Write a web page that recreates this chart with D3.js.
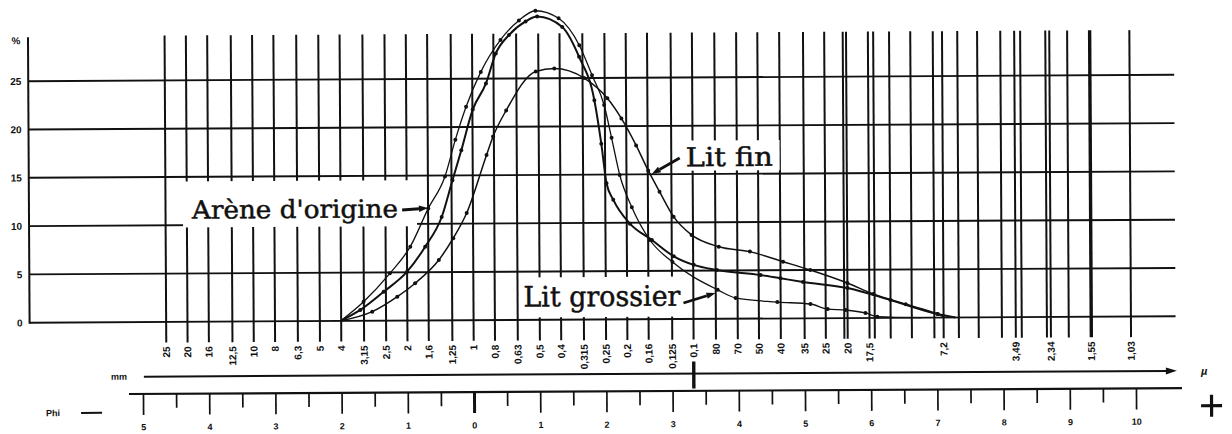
<!DOCTYPE html>
<html><head><meta charset="utf-8">
<script src="https://cdn.jsdelivr.net/npm/d3@7"></script>
<style>
html,body{margin:0;padding:0;background:#fff;}
svg{display:block;background:#fff;}
</style></head><body>
<svg id="c" width="1232" height="434"></svg>
<script>
// ---------------- data ----------------
const pctTicks = [0, 5, 10, 15, 20, 25];
const phiTicks = [-5,-4,-3,-2,-1,0,1,2,3,4,5,6,7,8,9,10];
const mmLabels = ["25","20","16","12,5","10","8","6,3","5","4","3,15","2,5","2","1,6","1,25","1","0,8","0,63","0,5","0,4","0,315","0,25","0,2","0,16","0,125","0,1"];
const mmValues = [25,20,16,12.5,10,8,6.3,5,4,3.15,2.5,2,1.6,1.25,1,0.8,0.63,0.5,0.4,0.315,0.25,0.2,0.16,0.125,0.1];
const micronLabels = ["80","70","50","40","35","25","20","17,5","7,2","3,49","2,34","1,55","1,03"];
const micronPhi = [3.66,3.99,4.31,4.64,5.0,5.32,5.65,5.98,7.10,8.19,8.72,9.33,9.93];
const extraLinePhi = [5.60,6.06,6.30,6.62,6.96,7.33,7.63,7.98,8.28,8.66,8.99];

// curves: [phi, percent]
const courbeArene = [[-2.01,0],[-1.66,1.98],[-1.26,4.9],[-0.95,7.65],[-0.675,11.6],[-0.42,14.9],[-0.26,18.7],[-0.095,22.1],[0.13,25.7],[0.43,29.0],[0.71,31.0],[0.96,32.0],[1.31,31.2],[1.62,28.4],[1.81,25.3],[1.99,22.2],[2.10,18.8],[2.22,14.95],[2.40,11.6],[2.67,8.2],[3.01,5.9],[3.69,3.0],[3.96,2.15],[4.59,1.7],[5.09,1.48],[5.35,0.95],[5.62,0.84],[5.92,0.52],[6.1,0.13],[6.77,0]];
const courbeMoyenne = [[-2.01,0],[-1.71,1.13],[-1.355,3.0],[-1.0,5.06],[-0.725,7.64],[-0.473,10.7],[-0.307,14.5],[-0.171,17.6],[0.005,21.8],[0.207,24.5],[0.358,27.6],[0.559,29.5],[0.811,30.9],[0.986,31.4],[1.364,30.3],[1.616,27.2],[1.843,22.7],[1.944,18.2],[2.02,14.1],[2.12,12.4],[2.37,9.9],[2.70,8.2],[3.03,6.5],[3.33,5.6],[3.68,5.06],[4.34,4.5],[4.64,4.16],[4.98,3.77],[5.65,3.12],[6.30,1.85],[7.01,0.37],[7.28,0]];
const courbeLitFin = [[-2.01,0],[-1.53,0.94],[-1.15,2.48],[-0.88,3.86],[-0.52,6.25],[-0.30,8.5],[-0.095,11.1],[0.21,17.1],[0.31,19.0],[0.51,21.7],[0.96,25.7],[1.24,26.0],[1.69,25.0],[2.04,22.9],[2.25,20.8],[2.47,18.0],[2.65,15.4],[2.82,13.2],[3.03,10.6],[3.30,8.7],[3.71,7.46],[4.18,6.94],[4.68,5.88],[5.09,5.0],[5.65,3.63],[6.04,2.48],[6.53,1.4],[7.01,0.37],[7.13,0]];

const labelTexts = ["Arène d'origine", "Lit fin", "Lit grossier"];

// ---------------- drawing ----------------
const ink = "#111";
const svg = d3.select("#c");
const root = svg.append("g").attr("transform","rotate(-0.32 616 217)");
const x = d3.scaleLinear().domain([0,10]).range([473,1135]);
const y = d3.scaleLinear().domain([0,25]).range([319.4,77.9]);

// horizontal grid
root.append("g").selectAll("line").data(pctTicks).join("line")
  .attr("x1",29).attr("x2",1175)
  .attr("y1",d=>y(d)).attr("y2",d=>y(d))
  .attr("stroke",ink).attr("stroke-width",1.9);

// vertical grid
const vLines = mmValues.map(m=>-Math.log2(m)).concat(micronPhi, extraLinePhi);
root.append("g").selectAll("line").data(vLines).join("line")
  .attr("x1",d=>x(d)).attr("x2",d=>x(d))
  .attr("y1",33).attr("y2",340)
  .attr("stroke",ink)
  .attr("stroke-width",d=>d===micronPhi[11]?3.4:2);

// size labels (rotated)
const sizeLabels = mmLabels.map((t,i)=>({t,phi:-Math.log2(mmValues[i])}))
  .concat(micronLabels.map((t,i)=>({t,phi:micronPhi[i]})));
root.append("g").selectAll("text").data(sizeLabels).join("text")
  .attr("transform",d=>`translate(${x(d.phi)},344) rotate(-90)`)
  .attr("text-anchor","end").attr("dy","0.36em")
  .attr("fill",ink)
  .style("font","bold 10px 'Liberation Sans', Arial, sans-serif")
  .text(d=>d.t);

// thick mark at 0,1 mm
const p01 = -Math.log2(mmValues[mmValues.length-1]);
root.append("line").attr("x1",x(p01)).attr("x2",x(p01)).attr("y1",362).attr("y2",389)
  .attr("stroke",ink).attr("stroke-width",3.4);

// y axis
const yAxis = d3.axisLeft(y).tickValues(pctTicks).tickSize(0).tickPadding(7);
const yg = root.append("g").attr("transform","translate(29,0)").call(yAxis);
yg.select(".domain").remove();
yg.selectAll("text").attr("fill",ink).style("font","bold 10px 'Liberation Sans', Arial, sans-serif");
root.append("line").attr("x1",29).attr("x2",29).attr("y1",34).attr("y2",y(0)+1)
  .attr("stroke",ink).attr("stroke-width",2);
root.append("text").attr("x",17).attr("y",41).attr("text-anchor","middle")
  .attr("fill",ink).style("font","bold 10px 'Liberation Sans', Arial, sans-serif").text("%");

// mm axis
root.append("line").attr("x1",143).attr("x2",1168).attr("y1",374).attr("y2",374)
  .attr("stroke",ink).attr("stroke-width",2);
root.append("path").attr("d","M1176,374 L1165,370.5 L1165,377.5 Z").attr("fill",ink);
root.append("text").attr("x",110).attr("y",377).attr("fill",ink)
  .style("font","bold 9px 'Liberation Sans', Arial, sans-serif").text("mm");
root.append("text").attr("x",1200).attr("y",378).attr("fill",ink)
  .style("font","bold italic 11px 'Liberation Sans', Arial, sans-serif").text("µ");

// phi axis
const phiY = 391.3;
root.append("line").attr("x1",128).attr("x2",1181).attr("y1",phiY).attr("y2",phiY)
  .attr("stroke",ink).attr("stroke-width",2.2);
const phiAxis = d3.axisBottom(x).tickValues(phiTicks).tickSize(21).tickPadding(9)
  .tickFormat(d=>String(Math.abs(d)));
const pg = root.append("g").attr("transform",`translate(0,${phiY})`).style("color",ink).call(phiAxis);
pg.select(".domain").remove();
pg.selectAll(".tick line").attr("stroke-width",d=>d===0?3:1.7);
pg.selectAll("text").style("font","bold 9px 'Liberation Sans', Arial, sans-serif");
const minorAxis = d3.axisBottom(x).tickValues(phiTicks.slice(0,-1).map(d=>d+0.5)).tickSize(14).tickFormat("");
const mg = root.append("g").attr("transform",`translate(0,${phiY})`).style("color",ink).call(minorAxis);
mg.select(".domain").remove();
mg.selectAll(".tick line").attr("stroke-width",1.7);
root.append("text").attr("x",45).attr("y",413).attr("fill",ink)
  .style("font","bold 9px 'Liberation Sans', Arial, sans-serif").text("Phi");
root.append("line").attr("x1",80).attr("x2",101).attr("y1",410).attr("y2",410)
  .attr("stroke",ink).attr("stroke-width",2);
// plus sign
root.append("line").attr("x1",1200).attr("x2",1221).attr("y1",409).attr("y2",409).attr("stroke",ink).attr("stroke-width",3.2);
root.append("line").attr("x1",1210.5).attr("x2",1210.5).attr("y1",398).attr("y2",420).attr("stroke",ink).attr("stroke-width",3.2);

// label boxes (white) in data coords
const boxes = [
  {p0:-4.38,p1:-0.846,v0:9.77,v1:14.53},
  {p0:3.157,p1:4.637,v0:15.35,v1:18.47},
  {p0:0.71,p1:3.187,v0:0.25,v1:4.39}
];
root.append("g").selectAll("rect").data(boxes).join("rect")
  .attr("x",d=>x(d.p0)).attr("width",d=>x(d.p1)-x(d.p0))
  .attr("y",d=>y(d.v1)).attr("height",d=>y(d.v0)-y(d.v1))
  .attr("fill","#fff");

// curves
const line = d3.line().x(d=>x(d[0])).y(d=>y(d[1])).curve(d3.curveMonotoneX);
const series = [
  {data:courbeArene, w:1.3},
  {data:courbeMoyenne, w:2},
  {data:courbeLitFin, w:1.5}
];
series.forEach(s=>{
  root.append("path").attr("d",line(s.data)).attr("fill","none")
    .attr("stroke",ink).attr("stroke-width",s.w);
  root.append("g").selectAll("circle").data(s.data.slice(1,-1)).join("circle")
    .attr("cx",d=>x(d[0])).attr("cy",d=>y(d[1])).attr("r",2).attr("fill",ink);
});

// text labels
const labels = [
  {t:labelTexts[0], p:-4.245, v:10.68, size:25, len:206},
  {t:labelTexts[1], p:3.22, v:15.82, size:26, len:87},
  {t:labelTexts[2], p:0.755, v:1.39, size:28, len:157}
];
root.append("g").selectAll("text").data(labels).join("text")
  .attr("x",d=>x(d.p)).attr("y",d=>y(d.v))
  .attr("textLength",d=>d.len).attr("lengthAdjust","spacingAndGlyphs")
  .attr("fill",ink).attr("stroke",ink).attr("stroke-width",0.5)
  .style("font-family","'DejaVu Serif', 'Liberation Serif', serif")
  .style("font-size",d=>d.size+"px")
  .text(d=>d.t);

// arrows (data coords)
const arrows = [
  {a:[-1.07,11.45], b:[-0.68,11.63]},
  {a:[3.127,16.67], b:[2.704,15.03]},
  {a:[3.172,1.66], b:[3.656,2.67]}
];
arrows.forEach(ar=>{
  const x1=x(ar.a[0]), y1=y(ar.a[1]), x2=x(ar.b[0]), y2=y(ar.b[1]);
  const ang=Math.atan2(y2-y1,x2-x1), L=9, Wd=3.2;
  const bx=x2-L*Math.cos(ang), by=y2-L*Math.sin(ang);
  root.append("line").attr("x1",x1).attr("y1",y1).attr("x2",bx).attr("y2",by)
    .attr("stroke",ink).attr("stroke-width",2.8);
  const px=-Math.sin(ang)*Wd, py=Math.cos(ang)*Wd;
  root.append("path").attr("d",`M${x2},${y2}L${bx+px},${by+py}L${bx-px},${by-py}Z`).attr("fill",ink);
});
</script>
</body></html>
